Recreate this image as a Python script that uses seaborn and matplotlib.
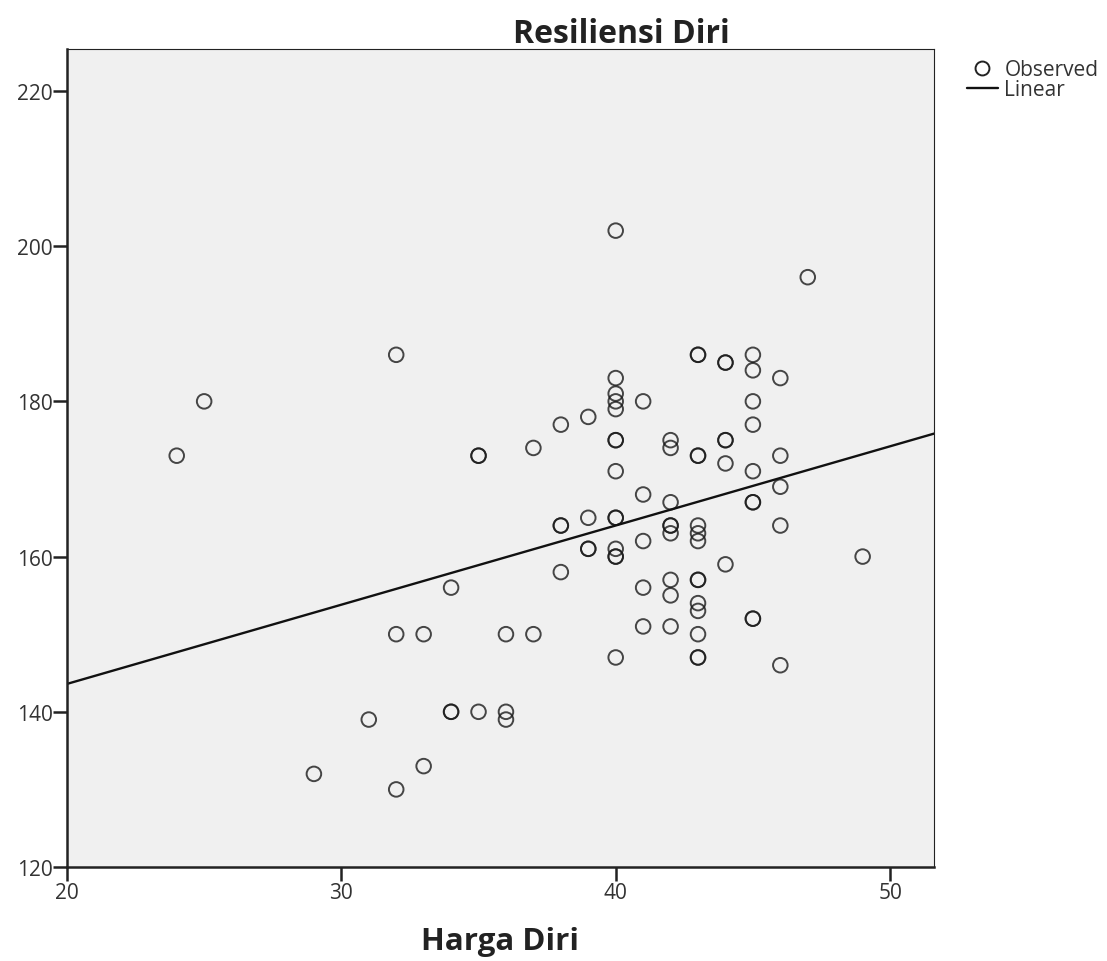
import matplotlib
matplotlib.use("Agg")
import matplotlib.pyplot as plt
import seaborn as sns
import pandas as pd
from matplotlib.lines import Line2D

harga_diri = [24, 25, 29, 31, 32, 32, 32, 33, 33, 34, 34, 34, 35, 35, 35,
              36, 36, 36, 37, 37, 38, 38, 38, 38, 39, 39, 39, 39,
              40, 40, 40, 40, 40, 40, 40, 40, 40, 40, 40, 40, 40, 40,
              41, 41, 41, 41, 41,
              42, 42, 42, 42, 42, 42, 42, 42, 42,
              43, 43, 43, 43, 43, 43, 43, 43, 43, 43, 43, 43, 43, 43,
              44, 44, 44, 44, 44, 44,
              45, 45, 45, 45, 45, 45, 45, 45, 45,
              46, 46, 46, 46, 46, 47, 49]
resiliensi_diri = [173, 180, 132, 139, 186, 150, 130, 150, 133, 156, 140, 140, 173, 173, 140,
                   150, 140, 139, 174, 150, 177, 164, 164, 158, 178, 165, 161, 161,
                   202, 183, 181, 180, 179, 175, 175, 171, 165, 165, 161, 160, 160, 147,
                   180, 168, 162, 156, 151,
                   175, 174, 167, 164, 163, 157, 155, 151, 164,
                   186, 186, 173, 173, 164, 163, 162, 157, 157, 154, 153, 150, 147, 147,
                   185, 185, 175, 175, 172, 159,
                   186, 184, 180, 177, 171, 167, 167, 152, 152,
                   183, 173, 169, 164, 146, 196, 160]

df = pd.DataFrame({"Harga Diri": harga_diri, "Resiliensi Diri": resiliensi_diri})

sns.set_style("white")
plt.rcParams['font.family'] = ['Open Sans', 'DejaVu Sans']

fig = plt.figure(figsize=(11.07, 9.62), dpi=100)
ax = fig.add_axes([0.0605, 0.0977, 0.7832, 0.8503])
ax.set_facecolor("#F0F0F0")
ax.set_xlim(20, 51.6)
ax.set_ylim(120, 225.4)

sns.regplot(data=df, x="Harga Diri", y="Resiliensi Diri", ax=ax, ci=None, truncate=False,
            scatter_kws=dict(s=110, facecolors="none", edgecolors="#1a1a1a", linewidths=1.4),
            line_kws=dict(color="#111111", linewidth=1.7))

ax.set_xticks([20, 30, 40, 50])
ax.set_yticks([120, 140, 160, 180, 200, 220])
ax.tick_params(axis="both", direction="out", length=10, width=1.8, color="#222222",
               labelsize=15, labelcolor="#333333", bottom=True, left=True)
ax.tick_params(axis="x", pad=1)
ax.tick_params(axis="y", pad=0)
for s in ax.spines.values():
    s.set_color("#222222")
    s.set_linewidth(1.8)
ax.spines["top"].set_linewidth(0.8)
ax.spines["right"].set_linewidth(0.8)

ax.set_xlabel("Harga Diri", fontsize=22.5, fontweight="bold", color="#222222", labelpad=16)
ax.set_ylabel("")
ax.set_title("Resiliensi Diri", fontsize=23, fontweight="bold", color="#222222",
             x=0.64, pad=5)

handles = [Line2D([], [], marker="o", linestyle="none", markerfacecolor="none",
                  markeredgecolor="#222222", markersize=10, markeredgewidth=1.4),
           Line2D([], [], color="#111111", linewidth=1.7)]
fig.legend(handles, ["Observed", "Linear"], loc="upper left", bbox_to_anchor=(0.864, 0.948),
           frameon=False, fontsize=15, handlelength=1.5, handletextpad=0.3,
           labelspacing=-0.05, borderpad=0, labelcolor="#333333")

fig.savefig("out.png", dpi=100)
